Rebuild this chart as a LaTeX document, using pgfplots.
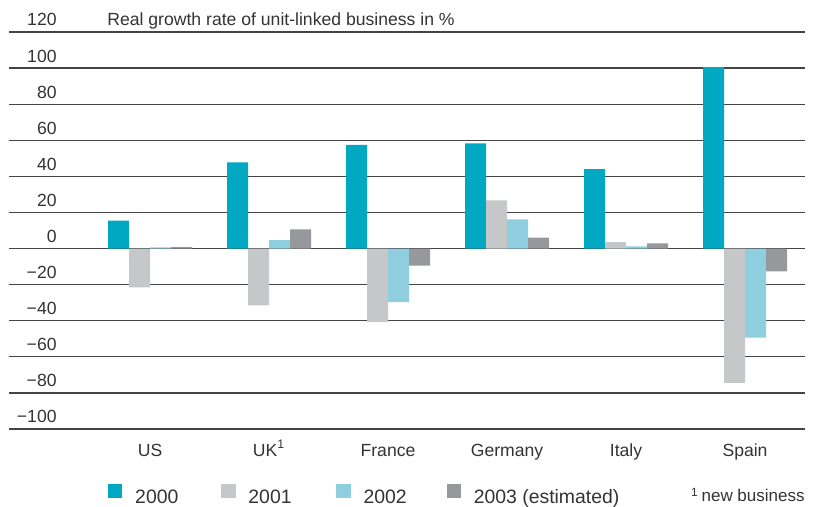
\documentclass[border=0pt]{standalone}
\usepackage{pgfplots}
\pgfplotsset{compat=1.18}
\usepackage{fontspec}
\setmainfont{Liberation Sans}
\definecolor{cA}{HTML}{00A8C2}
\definecolor{cB}{HTML}{C6C7C9}
\definecolor{cC}{HTML}{8FCEDF}
\definecolor{cD}{HTML}{97989C}
\definecolor{txt}{HTML}{333333}
\definecolor{gridc}{HTML}{444444}
\begin{document}
\begin{tikzpicture}
\begin{axis}[
  scale only axis,
  width=398pt, height=198.5pt,
  xmin=-1.185, xmax=5.504,
  ymin=-100, ymax=120,
  enlargelimits=false,
  clip=false,
  ybar=0pt, bar width=10.5pt,
  axis line style={draw=none},
  tick style={draw=none},
  xtick={0,1,2,3,4,5},
  xticklabels={US, UK\textsuperscript{1}, France, Germany, Italy, Spain},
  xticklabel style={anchor=base, inner sep=0pt, yshift=-9.5pt, font=\fontsize{8.8}{10}\selectfont, text=txt},
  ytick={-80,-60,-40,-20,0,20,40,60,80,100,120},
  yticklabels={−80,−60,−40,−20,0,20,40,60,80,100,120},
  extra y ticks={-100},
  extra y tick labels={−100},
  extra y tick style={grid style={color=gray!90, line width=0.7pt}},
  yticklabel style={anchor=base east, inner sep=0pt, xshift=24pt, yshift=3pt, font=\fontsize{8.8}{10}\selectfont, text=txt},
  ymajorgrids,
  major grid style={color=gridc, line width=0.6pt},
  legend columns=-1,
  legend style={draw=none, fill=none, inner sep=0pt, outer sep=0pt,
    at={(rel axis cs:0.1244,0)}, anchor=north west, yshift=-27.5pt,
    font=\fontsize{9.7}{11}\selectfont, text=txt,
    nodes={inner sep=0pt},
    /tikz/every odd column/.append style={column sep=6.4pt},
    /tikz/every even column/.append style={column sep=0pt}},
  legend image code/.code={\fill[#1] (0pt,-0.2pt) rectangle (7.2pt,7pt);},
]
\addplot[fill=cA, draw=none] coordinates {(0,15.5) (1,47.8) (2,57.4) (3,58.3) (4,44) (5,100.5)};
\addplot[fill=cB, draw=none] coordinates {(0,-21.5) (1,-31.5) (2,-40.8) (3,26.7) (4,3.5) (5,-74.5)};
\addplot[fill=cC, draw=none] coordinates {(0,0.6) (1,4.6) (2,-29.7) (3,16.1) (4,1.2) (5,-49.3)};
\addplot[fill=cD, draw=none] coordinates {(0,0.8) (1,10.6) (2,-9.4) (3,6.1) (4,2.8) (5,-12.6)};
\legend{\makebox[43pt][l]{2000},\makebox[44pt][l]{2001},\makebox[41.5pt][l]{2002},2003 (estimated)}
\node[anchor=base west, inner sep=0pt, text=txt, font=\fontsize{8.8}{10}\selectfont, yshift=3pt] at (rel axis cs:0.1231,1) {Real growth rate of unit-linked business in \%};
\node[anchor=base east, inner sep=0pt, text=txt, font=\fontsize{8.5}{10}\selectfont, yshift=-36.5pt] at (rel axis cs:1,0) {\textsuperscript{1}\,new business};
\end{axis}
\path ([shift={(-4.5pt,-39pt)}]current axis.south west) rectangle ([shift={(6.5pt,16pt)}]current axis.north east);
\end{tikzpicture}
\end{document}
